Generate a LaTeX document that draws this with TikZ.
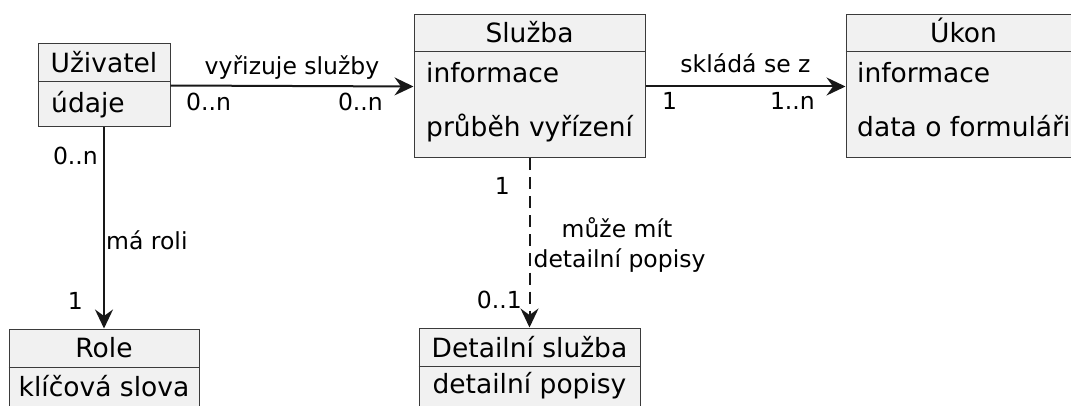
\documentclass[tikz,border=0pt]{standalone}
\usepackage{fontspec}
\setmainfont{DejaVu Sans}
\usetikzlibrary{arrows.meta}
\definecolor{boxfill}{HTML}{F1F1F1}
\definecolor{ink}{HTML}{181818}
\begin{document}
\begin{tikzpicture}[x=1pt,y=-1pt,
  classbox/.style={draw=ink!85, line width=1pt, fill=boxfill, inner sep=0pt},
  divider/.style={draw=ink!85, line width=1pt},
  txt/.style={font=\fontsize{26.5}{31}\selectfont, inner sep=0pt, text=black},
  lbl/.style={font=\fontsize{23.5}{28}\selectfont, inner sep=0pt, text=black},
  assoc/.style={draw=ink, line width=2pt, -{Stealth[length=19pt,width=18pt,inset=6.5pt]}},
  dep/.style={assoc, dash pattern=on 12pt off 7pt}]
\useasboundingbox (0,0) rectangle (1071,406);

% class boxes
\node[classbox, minimum width=132pt, minimum height=83pt]  (uz) at (104,85.5) {};
\node[classbox, minimum width=231pt, minimum height=143pt] (sl) at (529.5,86.5) {};
\node[classbox, minimum width=235pt, minimum height=143pt] (uk) at (963.5,86.5) {};
\node[classbox, minimum width=190pt, minimum height=92pt]  (ro) at (104,375) {};
\node[classbox, minimum width=221pt, minimum height=92pt]  (de) at (529.5,374) {};

% compartment dividers
\draw[divider] (uz.west |- 0,82) -- (uz.east |- 0,82);
\draw[divider] (sl.west |- 0,52) -- (sl.east |- 0,52);
\draw[divider] (uk.west |- 0,52) -- (uk.east |- 0,52);
\draw[divider] (ro.west |- 0,367) -- (ro.east |- 0,367);
\draw[divider] (de.west |- 0,366) -- (de.east |- 0,366);

% class names and attributes
\node[txt, anchor=base] (uzn) at (104,73) {Uživatel};
\node[txt, anchor=base west] (uza) at (51,113) {údaje};
\node[txt, anchor=base] (sln) at (529.5,43) {Služba};
\node[txt, anchor=base west] (sla1) at (426,83) {informace};
\node[txt, anchor=base west] (sla2) at (426,137) {průběh vyřízení};
\node[txt, anchor=base] (ukn) at (963.5,43) {Úkon};
\node[txt, anchor=base west] (uka1) at (857,83) {informace};
\node[txt, anchor=base west] (uka2) at (857,137) {data o formuláři};
\node[txt, anchor=base] (ron) at (104,357) {Role};
\node[txt, anchor=base] (roa) at (104,396) {klíčová slova};
\node[txt, anchor=base] (den) at (529.5,357) {Detailní služba};
\node[txt, anchor=base] (dea) at (529.5,393) {detailní popisy};

% associations
\draw[assoc] (uz.east) -- (sl.west);
\draw[assoc] (sl.east) -- (uk.west);
\draw[assoc] (uz.south) -- (ro.north);
\draw[dep] (sl.south) -- (de.north);

% association labels and multiplicities
\node[lbl, anchor=base] (l1) at (292,75) {vyřizuje služby};
\node[lbl, anchor=base west] (m1a) at (186,111) {0..n};
\node[lbl, anchor=base east] (m1b) at (383,111) {0..n};
\node[lbl, anchor=base] (l2) at (745.5,73) {skládá se z};
\node[lbl, anchor=base west] (m2a) at (662,110) {1};
\node[lbl, anchor=base east] (m2b) at (815,110) {1..n};
\node[lbl, anchor=base east] (m3a) at (98,165) {0..n};
\node[lbl, anchor=base west] (l3) at (106,250) {má roli};
\node[lbl, anchor=base east] (m3b) at (83,309) {1};
\node[lbl, anchor=base east] (m4a) at (510,195) {1};
\node[lbl, anchor=base] (l4a) at (617,238) {může mít};
\node[lbl, anchor=base] (l4b) at (619.5,267) {detailní popisy};
\node[lbl, anchor=base east] (m4b) at (522,308) {0..1};
\end{tikzpicture}
\end{document}
